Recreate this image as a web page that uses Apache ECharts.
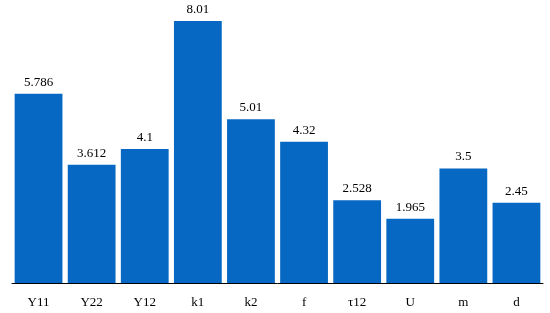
<!DOCTYPE html>
<html>
<head>
<meta charset="utf-8">
<script src="https://cdn.jsdelivr.net/npm/echarts@6/dist/echarts.min.js"></script>
<style>
  html, body { margin: 0; padding: 0; background: #fff; }
  #chart { width: 550px; height: 313px; }
</style>
</head>
<body>
<div id="chart"></div>
<script>
// 参数名称
const categories = ['Y11', 'Y22', 'Y12', 'k1', 'k2', 'f', 'τ12', 'U', 'm', 'd']
// 数值
const values = [5.786, 3.612, 4.1, 8.01, 5.01, 4.32, 2.528, 1.965, 3.5, 2.45]

const chart = echarts.init(document.getElementById('chart'))
chart.setOption({
  animation: false,
  grid: { left: 12, right: 7, top: 21, bottom: 30 },
  xAxis: {
    type: 'category',
    data: categories,
    axisLine: { lineStyle: { color: '#000', width: 1 } },
    axisTick: { show: false },
    axisLabel: {
      color: '#000',
      fontFamily: 'Liberation Serif, Times New Roman, serif',
      fontSize: 13,
      margin: 13
    }
  },
  yAxis: {
    type: 'value',
    min: 0,
    max: 'dataMax',
    show: false,
    splitLine: { show: false }
  },
  series: [{
    type: 'bar',
    data: values,
    barCategoryGap: '10%',
    itemStyle: { color: '#0668c2' },
    label: {
      show: true,
      position: 'top',
      distance: 5,
      color: '#000',
      fontFamily: 'Liberation Serif, Times New Roman, serif',
      fontSize: 13
    }
  }]
})
</script>
</body>
</html>
